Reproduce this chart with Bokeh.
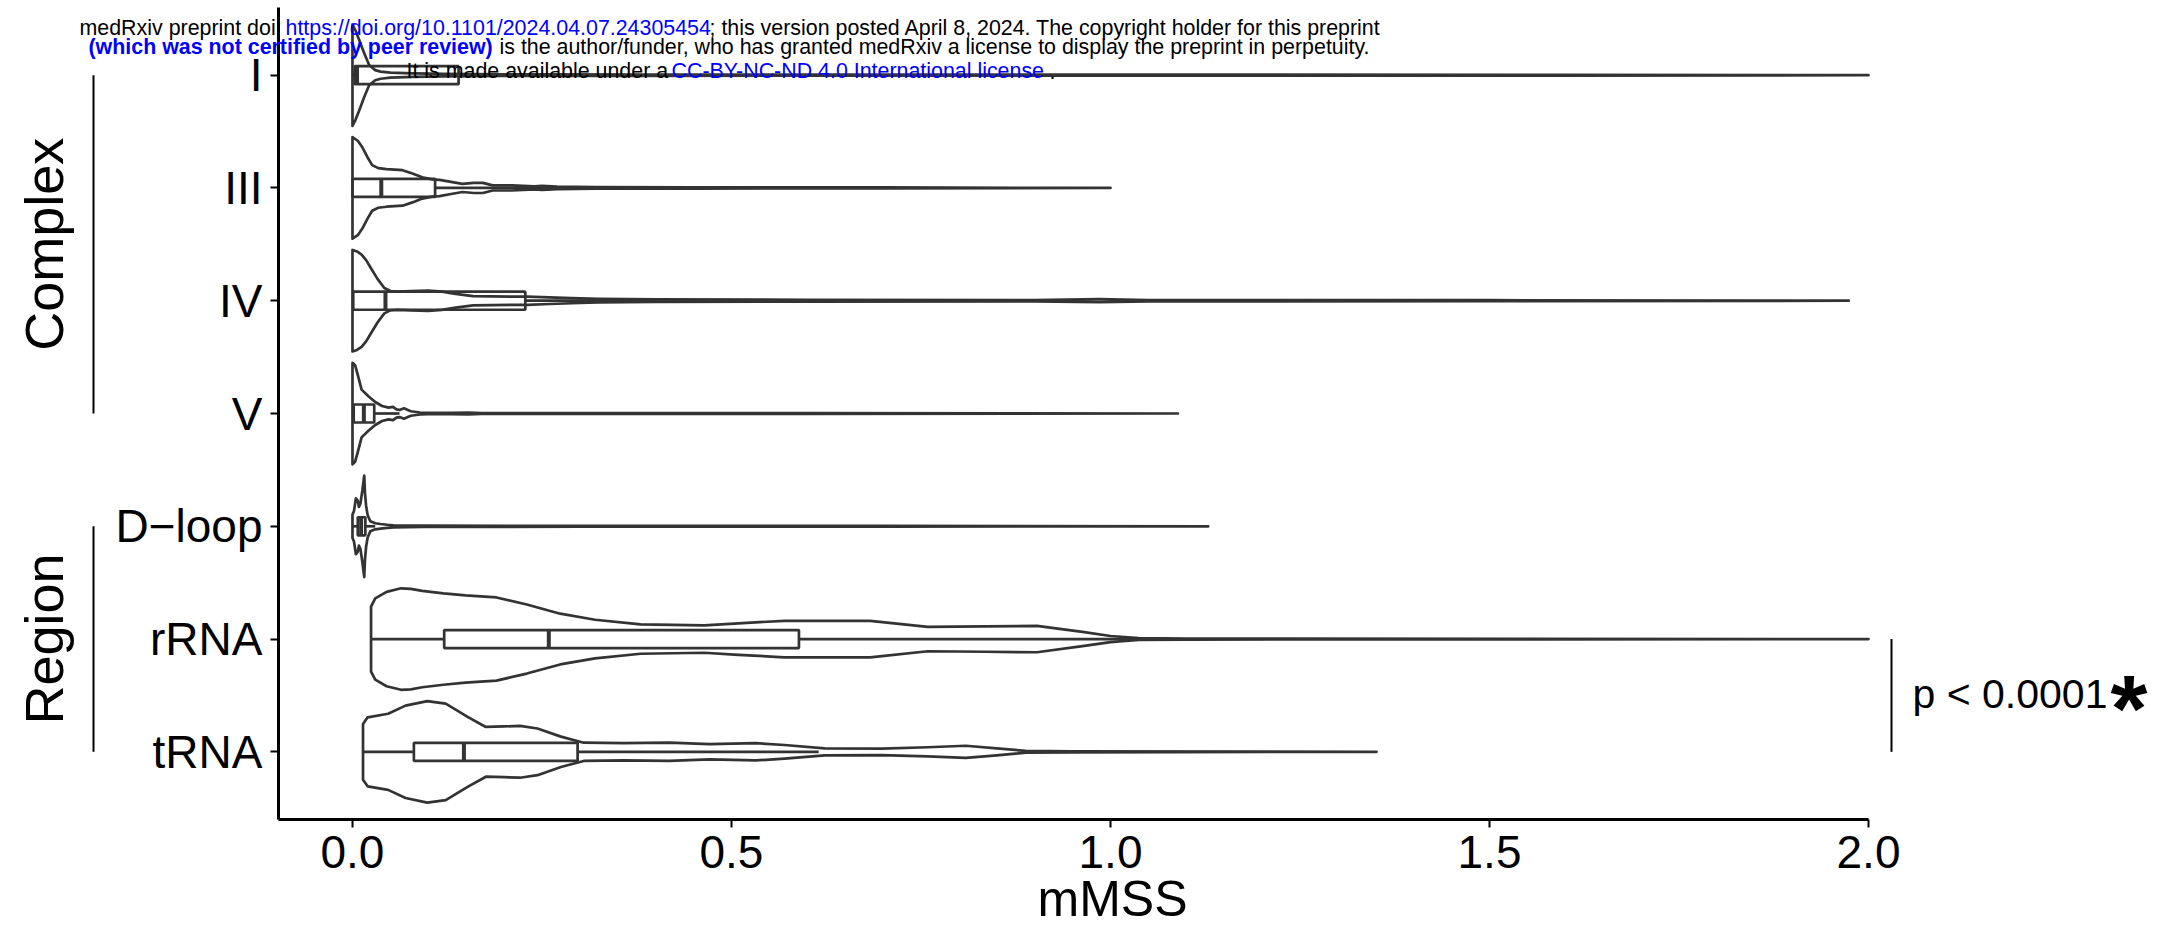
import math
from bokeh.plotting import figure
from bokeh.models import Range1d, FixedTicker, Label, ColumnDataSource
from bokeh.embed import file_html
from bokeh.resources import INLINE

# ---------------- data ----------------
categories = ["tRNA", "rRNA", "D\u2212loop", "V", "IV", "III", "I"]   # bottom -> top
x_ticks = [0.0, 0.5, 1.0, 1.5, 2.0]
x_tick_labels = ["0.0", "0.5", "1.0", "1.5", "2.0"]

# violin outlines: mMSS value and relative density (1 = widest point)
I_x = [0.0, 0.004, 0.009, 0.0155, 0.022, 0.03, 0.037, 0.05, 0.08, 0.12, 0.2, 0.4, 0.8, 1.2, 1.6, 2.0]
I_d = [1.0, 0.88, 0.69, 0.43, 0.2, 0.1, 0.07, 0.05, 0.035, 0.025, 0.015, 0.012, 0.01, 0.009, 0.008, 0.0]

III_x = [0.0, 0.007, 0.013, 0.02, 0.026, 0.034, 0.045, 0.066, 0.08, 0.092, 0.105, 0.115, 0.13, 0.145,
         0.16, 0.172, 0.185, 0.21, 0.24, 0.25, 0.27, 0.32, 0.45, 0.7, 1.0]
III_d = [1.0, 0.93, 0.8, 0.6, 0.45, 0.39, 0.37, 0.35, 0.28, 0.21, 0.17, 0.16, 0.12, 0.08,
         0.1, 0.1, 0.05, 0.05, 0.03, 0.04, 0.025, 0.015, 0.012, 0.01, 0.0]

IV_x = [0.0, 0.006, 0.012, 0.018, 0.024, 0.033, 0.042, 0.05, 0.059, 0.077, 0.1, 0.118, 0.136, 0.159,
        0.183, 0.23, 0.26, 0.289, 0.324, 0.4, 0.6, 0.9, 0.985, 1.05, 1.5, 1.974]
IV_d = [1.0, 0.97, 0.91, 0.8, 0.65, 0.43, 0.25, 0.19, 0.18, 0.19, 0.2, 0.18, 0.135, 0.09,
        0.085, 0.08, 0.065, 0.05, 0.035, 0.025, 0.018, 0.014, 0.03, 0.014, 0.01, 0.0]

V_x = [0.0, 0.0035, 0.0075, 0.012, 0.021, 0.03, 0.039, 0.0476, 0.0534, 0.058, 0.062, 0.068, 0.073,
       0.077, 0.089, 0.1, 0.13, 0.153, 0.17, 0.3, 0.6, 1.089]
V_d = [1.0, 0.95, 0.73, 0.47, 0.34, 0.226, 0.148, 0.116, 0.129, 0.08, 0.071, 0.103, 0.07,
       0.045, 0.019, 0.013, 0.012, 0.018, 0.01, 0.009, 0.008, 0.0]

Dloop_x = [0.0, 0.002, 0.0045, 0.007, 0.0085, 0.0105, 0.013, 0.0145, 0.0155, 0.0165, 0.018, 0.02,
           0.0235, 0.03, 0.037, 0.046, 0.054, 0.094, 0.3, 0.7, 1.129]
Dloop_d = [0.23, 0.3, 0.55, 0.5, 0.38, 0.45, 0.7, 0.88, 1.0, 0.65, 0.4, 0.22,
           0.1, 0.06, 0.045, 0.03, 0.02, 0.012, 0.009, 0.008, 0.0]

rRNA_x = [0.0245, 0.03, 0.045, 0.064, 0.077, 0.092, 0.12, 0.149, 0.19, 0.23, 0.274, 0.32, 0.38, 0.464,
          0.509, 0.57, 0.623, 0.683, 0.759, 0.835, 0.903, 0.963, 1.0, 1.037, 1.1, 2.0]
rRNA_d = [0.64, 0.8, 0.93, 1.0, 0.99, 0.95, 0.9, 0.86, 0.82, 0.68, 0.5, 0.38, 0.29, 0.27,
          0.31, 0.36, 0.36, 0.36, 0.24, 0.25, 0.26, 0.14, 0.06, 0.018, 0.01, 0.0]

tRNA_x = [0.0139, 0.02, 0.047, 0.07, 0.0987, 0.123, 0.153, 0.176, 0.2, 0.221, 0.244, 0.275, 0.305,
          0.358, 0.418, 0.471, 0.532, 0.57, 0.623, 0.698, 0.759, 0.809, 0.85, 0.888, 0.95, 1.351]
tRNA_d = [0.55, 0.68, 0.75, 0.91, 1.0, 0.95, 0.68, 0.49, 0.5, 0.51, 0.46, 0.3, 0.18,
          0.17, 0.18, 0.15, 0.17, 0.135, 0.07, 0.064, 0.09, 0.12, 0.07, 0.018, 0.01, 0.0]

violin_x = [tRNA_x, rRNA_x, Dloop_x, V_x, IV_x, III_x, I_x]
violin_d = [tRNA_d, rRNA_d, Dloop_d, V_d, IV_d, III_d, I_d]

# box statistics (bottom -> top)
whisker_lo = [0.0139, 0.0245, 0.0, 0.0, 0.0, 0.0, 0.0]
q1 = [0.081, 0.121, 0.007, 0.0016, 0.001, 0.0, 0.003]
median = [0.147, 0.259, 0.0114, 0.015, 0.0435, 0.038, 0.006]
q3 = [0.297, 0.589, 0.017, 0.0287, 0.228, 0.109, 0.14]
whisker_hi = [0.615, 1.04, 0.03, 0.062, 0.57, 0.27, 0.35]

groups = ["Complex", "Region"]
group_lo = [4, 1]
group_hi = [7, 3]
p_text = "p < 0.0001"

# ---------------- layout ----------------
W, H = 2168, 929
# panel of the original chart (pixels) and its data limits
PL, PR, PT, PB = 278, 1868, 7, 819
X0, X1 = -0.0976, 2.0
Y0, Y1 = 0.4, 7.6
SX = (PR - PL) / (X1 - X0)
SY = (PB - PT) / (Y1 - Y0)
VW = 0.45       # half of violin width
BW = 0.08       # half of box width
INK = "#333333"
LW = 2.7
FONT = "Liberation Sans"
BASE_SHIFT = 0.34   # rendered baseline lies this many em below the anchor


def dx(px):
    return X0 + (px - PL) / SX


def dy(py):
    return Y1 - (py - PT) / SY


p = figure(width=W, height=H, output_backend="svg", toolbar_location=None,
           x_range=Range1d(dx(0), dx(W)), y_range=Range1d(dy(H), dy(0)),
           min_border=0, min_border_left=0, min_border_right=0,
           min_border_top=0, min_border_bottom=0)
p.outline_line_color = None
p.xgrid.visible = False
p.ygrid.visible = False
p.background_fill_color = "white"
p.border_fill_color = "white"

# violins
vx, vy = [], []
for i, (xs, ds) in enumerate(zip(violin_x, violin_d)):
    pos = i + 1
    vx.append(list(xs) + list(reversed(xs)))
    vy.append([pos + d * VW for d in ds] + [pos - d * VW for d in reversed(ds)])
p.patches(xs=vx, ys=vy, fill_color="white", line_color=INK, line_width=LW, line_join="round")

# boxplots
pos = [i + 1 for i in range(len(categories))]
src = ColumnDataSource(dict(pos=pos, lo=whisker_lo, q1=q1, med=median, q3=q3, hi=whisker_hi,
                            b=[v - BW for v in pos], t=[v + BW for v in pos]))
p.segment(x0="lo", y0="pos", x1="q1", y1="pos", source=src, line_color=INK, line_width=LW)
p.segment(x0="q3", y0="pos", x1="hi", y1="pos", source=src, line_color=INK, line_width=LW)
p.quad(left="q1", right="q3", bottom="b", top="t", source=src, fill_alpha=0,
       line_color=INK, line_width=LW)
p.segment(x0="med", y0="b", x1="med", y1="t", source=src, line_color=INK, line_width=4)

# axes (Bokeh's own, pinned to the panel edges)
p.xaxis.ticker = FixedTicker(ticks=x_ticks)
p.xaxis.major_label_overrides = {t: s for t, s in zip(x_ticks, x_tick_labels)}
p.xaxis.fixed_location = Y0
p.xaxis.bounds = (X0, X1)
p.yaxis.ticker = FixedTicker(ticks=pos)
p.yaxis.major_label_overrides = {v: c for v, c in zip(pos, categories)}
p.yaxis.fixed_location = X0
p.yaxis.bounds = (Y0, Y1)
for ax in (p.xaxis, p.yaxis):
    ax.axis_line_width = 3
    ax.axis_line_color = "black"
    ax.major_tick_line_width = 2
    ax.major_tick_line_color = "black"
    ax.major_tick_out = 8
    ax.major_tick_in = 0
    ax.minor_tick_line_color = None
    ax.major_label_text_font = FONT
    ax.major_label_text_font_size = "46px"
    ax.major_label_text_color = "black"
    ax.major_label_standoff = 8


def text_at(px, base_py, txt, size, **kw):
    """Place a text with its alphabetic baseline at screen pixel base_py."""
    p.add_layout(Label(x=dx(px), y=dy(base_py - BASE_SHIFT * size), text=txt, text_font=FONT,
                       text_font_size=f"{size}px", text_baseline="alphabetic", **kw))


text_at(1112, 915, "mMSS", 50, text_color="black", text_align="center")

# group brackets on the left
gsrc = ColumnDataSource(dict(x=[dx(93)] * len(groups), lo=group_lo, hi=group_hi))
p.segment(x0="x", y0="lo", x1="x", y1="hi", source=gsrc, line_color="black", line_width=2)
for g, a, b in zip(groups, group_lo, group_hi):
    p.add_layout(Label(x=dx(62 - BASE_SHIFT * 54), y=(a + b) / 2, text=g, angle=math.pi / 2,
                       text_font=FONT, text_font_size="54px", text_color="black",
                       text_align="center", text_baseline="alphabetic"))

# significance bracket (rRNA vs tRNA)
ssrc = ColumnDataSource(dict(x=[dx(1891)], lo=[1], hi=[2]))
p.segment(x0="x", y0="lo", x1="x", y1="hi", source=ssrc, line_color="black", line_width=2)
text_at(1912, 707, p_text, 41, text_color="black", text_align="left")
p.add_layout(Label(x=dx(2110), y=dy(707), text="*", text_font=FONT, text_font_size="95px",
                   text_font_style="bold", text_color="black", text_align="left",
                   text_baseline="alphabetic"))

# medRxiv stamp
BLUE = "#0000ff"
stamp = [
    (79, 35, "medRxiv preprint doi:", "black", "normal"),
    (285, 35, "https://doi.org/10.1101/2024.04.07.24305454", BLUE, "normal"),
    (709, 35, "; this version posted April 8, 2024. The copyright holder for this preprint", "black", "normal"),
    (88, 54, "(which was not certified by peer review)", BLUE, "bold"),
    (499, 54, "is the author/funder, who has granted medRxiv a license to display the preprint in perpetuity.", "black", "normal"),
    (406, 78, "It is made available under a", "black", "normal"),
    (671, 78, "CC-BY-NC-ND 4.0 International license", BLUE, "normal"),
    (1049, 78, ".", "black", "normal"),
]
for sx, sy, txt, col, sty in stamp:
    text_at(sx, sy, txt, 21.4, text_color=col, text_font_style=sty, text_align="left")

open("out.html", "w").write(file_html(p, INLINE))
